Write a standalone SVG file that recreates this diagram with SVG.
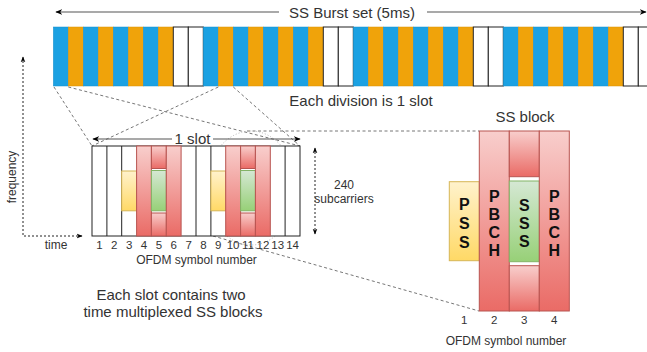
<svg xmlns="http://www.w3.org/2000/svg" width="647" height="352" viewBox="0 0 647 352">
  <defs>
    <linearGradient id="gRed" x1="0" y1="0" x2="0" y2="1">
      <stop offset="0" stop-color="#f8cecc"/>
      <stop offset="1" stop-color="#ea6b66"/>
    </linearGradient>
    <linearGradient id="gYel" x1="0" y1="0" x2="0" y2="1">
      <stop offset="0" stop-color="#fff2cc"/>
      <stop offset="1" stop-color="#ffd966"/>
    </linearGradient>
    <linearGradient id="gGrn" x1="0" y1="0" x2="0" y2="1">
      <stop offset="0" stop-color="#d5e8d4"/>
      <stop offset="1" stop-color="#97d077"/>
    </linearGradient>
    <marker id="arr" viewBox="0 0 10 10" refX="9" refY="5" markerWidth="7" markerHeight="7" orient="auto-start-reverse" markerUnits="userSpaceOnUse">
      <path d="M0,1 L10,5 L0,9 L3,5 Z" fill="#000"/>
    </marker>
    <marker id="arrS" viewBox="0 0 10 10" refX="9" refY="5" markerWidth="6" markerHeight="6" orient="auto-start-reverse" markerUnits="userSpaceOnUse">
      <path d="M0,1 L10,5 L0,9 L3,5 Z" fill="#000"/>
    </marker>
  </defs>
  <style>
    text { font-family: "Liberation Sans", Arial, sans-serif; fill: #333; }
    .b { fill: #1ba1e2; stroke: #1a8fcb; stroke-width: 0.5; }
    .o { fill: #f0a30a; stroke: #d89309; stroke-width: 0.5; }
    .w { fill: #fff; stroke: #222; stroke-width: 1; }
    .red { fill: url(#gRed); stroke: #b85450; stroke-width: 1; }
    .yel { fill: url(#gYel); stroke: #d6b656; stroke-width: 1; }
    .grn { fill: url(#gGrn); stroke: #82b366; stroke-width: 1; }
    .dash { fill: none; stroke: #666; stroke-width: 0.9; stroke-dasharray: 3 2.5; }
    .dot { fill: none; stroke: #222; stroke-width: 1; stroke-dasharray: 2 2; }
    .faint { fill: none; stroke: #b5b5b5; stroke-width: 1; stroke-dasharray: 1 2; }
    .solid { fill: none; stroke: #555; stroke-width: 1.2; }
    .lbl { font-size: 15px; }
    .num { font-size: 11.5px; text-anchor: middle; }
    .sml { font-size: 12px; }
    .blk { font-size: 16px; font-weight: bold; fill: #111; text-anchor: middle; }
  </style>

  <!-- burst set span -->
  <g id="burst-span">
    <line class="solid" x1="279" y1="12" x2="56" y2="12" marker-end="url(#arr)"/>
    <line class="solid" x1="427" y1="12" x2="646" y2="12" marker-end="url(#arr)"/>
    <text class="lbl" x="352" y="18" text-anchor="middle">SS Burst set (5ms)</text>
  </g>

  <!-- burst of slots: 8 occupied, 2 empty, repeating -->
  <g id="burst-bar">
    <rect class="b" x="53.3" y="27" width="15" height="59"/>
    <rect class="o" x="68.3" y="27" width="15" height="59"/>
    <rect class="b" x="83.3" y="27" width="15" height="59"/>
    <rect class="o" x="98.3" y="27" width="15" height="59"/>
    <rect class="b" x="113.3" y="27" width="15" height="59"/>
    <rect class="o" x="128.3" y="27" width="15" height="59"/>
    <rect class="b" x="143.3" y="27" width="15" height="59"/>
    <rect class="o" x="158.3" y="27" width="15" height="59"/>
    <rect class="w" x="173.3" y="27" width="15" height="59"/>
    <rect class="w" x="188.3" y="27" width="15" height="59"/>
    <rect class="b" x="203.3" y="27" width="15" height="59"/>
    <rect class="o" x="218.3" y="27" width="15" height="59"/>
    <rect class="b" x="233.3" y="27" width="15" height="59"/>
    <rect class="o" x="248.3" y="27" width="15" height="59"/>
    <rect class="b" x="263.3" y="27" width="15" height="59"/>
    <rect class="o" x="278.3" y="27" width="15" height="59"/>
    <rect class="b" x="293.3" y="27" width="15" height="59"/>
    <rect class="o" x="308.3" y="27" width="15" height="59"/>
    <rect class="w" x="323.3" y="27" width="15" height="59"/>
    <rect class="w" x="338.3" y="27" width="15" height="59"/>
    <rect class="b" x="353.3" y="27" width="15" height="59"/>
    <rect class="o" x="368.3" y="27" width="15" height="59"/>
    <rect class="b" x="383.3" y="27" width="15" height="59"/>
    <rect class="o" x="398.3" y="27" width="15" height="59"/>
    <rect class="b" x="413.3" y="27" width="15" height="59"/>
    <rect class="o" x="428.3" y="27" width="15" height="59"/>
    <rect class="b" x="443.3" y="27" width="15" height="59"/>
    <rect class="o" x="458.3" y="27" width="15" height="59"/>
    <rect class="w" x="473.3" y="27" width="15" height="59"/>
    <rect class="w" x="488.3" y="27" width="15" height="59"/>
    <rect class="b" x="503.3" y="27" width="15" height="59"/>
    <rect class="o" x="518.3" y="27" width="15" height="59"/>
    <rect class="b" x="533.3" y="27" width="15" height="59"/>
    <rect class="o" x="548.3" y="27" width="15" height="59"/>
    <rect class="b" x="563.3" y="27" width="15" height="59"/>
    <rect class="o" x="578.3" y="27" width="15" height="59"/>
    <rect class="b" x="593.3" y="27" width="15" height="59"/>
    <rect class="o" x="608.3" y="27" width="15" height="59"/>
    <rect class="w" x="623.3" y="27" width="15" height="59"/>
    <rect class="w" x="638.3" y="27" width="15" height="59"/>
  </g>
  <text id="division-label" class="lbl" x="361" y="106" text-anchor="middle">Each division is 1 slot</text>

  <!-- connectors -->
  <g id="connectors">
    <line class="dash" x1="54" y1="87" x2="92" y2="146"/>
    <line class="dash" x1="68.3" y1="87" x2="300" y2="146"/>
    <line class="dash" x1="218.3" y1="87" x2="92" y2="146"/>
    <line class="dash" x1="233.3" y1="87" x2="300" y2="146"/>
    <line class="dash" x1="247" y1="131" x2="479" y2="131"/>
    <line class="dash" x1="213" y1="236" x2="479" y2="311"/>
    <ellipse class="faint" cx="251" cy="188" rx="45" ry="57"/>
  </g>

  <!-- axes -->
  <g id="axes">
    <polyline class="dot" points="82,236 23,236 23,57" marker-start="url(#arrS)" marker-end="url(#arrS)"/>
    <text class="sml" transform="translate(16,177) rotate(-90)" text-anchor="middle">frequency</text>
    <text class="sml" x="56" y="249" text-anchor="middle">time</text>
  </g>

  <!-- one slot of 14 OFDM symbols -->
  <g id="slot">
    <line class="solid" x1="172" y1="139" x2="93" y2="139" marker-end="url(#arr)"/>
    <line class="solid" x1="213" y1="139" x2="300" y2="139" marker-end="url(#arr)"/>
    <text class="lbl" x="192.5" y="144" text-anchor="middle">1 slot</text>
    <rect class="w" x="92" y="146" width="208" height="90"/>
    <path d="M106.9,146V236M121.7,146V236M196,146V236M210.9,146V236M285.1,146V236" stroke="#222" stroke-width="1"/>
    <!-- first SS block -->
    <rect class="yel" x="121.7" y="171" width="14.9" height="39.8"/>
    <rect class="red" x="136.6" y="146" width="14.8" height="90"/>
    <rect class="red" x="151.4" y="146" width="14.9" height="22.5"/>
    <rect class="grn" x="151.4" y="170.5" width="14.9" height="40.3"/>
    <rect class="red" x="151.4" y="213" width="14.9" height="23"/>
    <rect class="red" x="166.3" y="146" width="14.8" height="90"/>
    <!-- second SS block -->
    <rect class="yel" x="210.9" y="171" width="14.8" height="39.8"/>
    <rect class="red" x="225.7" y="146" width="14.9" height="90"/>
    <rect class="red" x="240.6" y="146" width="14.8" height="22.5"/>
    <rect class="grn" x="240.6" y="170.5" width="14.8" height="40.3"/>
    <rect class="red" x="240.6" y="213" width="14.8" height="23"/>
    <rect class="red" x="255.4" y="146" width="14.9" height="90"/>
    <g class="num-row">
      <text class="num" x="99.4" y="249">1</text>
      <text class="num" x="114.3" y="249">2</text>
      <text class="num" x="129.1" y="249">3</text>
      <text class="num" x="144" y="249">4</text>
      <text class="num" x="158.9" y="249">5</text>
      <text class="num" x="173.7" y="249">6</text>
      <text class="num" x="188.6" y="249">7</text>
      <text class="num" x="203.4" y="249">8</text>
      <text class="num" x="218.3" y="249">9</text>
      <text class="num" x="233.1" y="249">10</text>
      <text class="num" x="248" y="249">11</text>
      <text class="num" x="262.9" y="249">12</text>
      <text class="num" x="277.7" y="249">13</text>
      <text class="num" x="292.6" y="249">14</text>
    </g>
    <text class="sml" x="196.5" y="264" text-anchor="middle">OFDM symbol number</text>
  </g>

  <!-- bandwidth of an SS block -->
  <g id="subcarriers">
    <line class="dot" x1="315" y1="148" x2="315" y2="234" marker-start="url(#arrS)" marker-end="url(#arrS)"/>
    <text class="sml" x="344" y="189" text-anchor="middle">240</text>
    <text class="sml" x="344" y="203" text-anchor="middle">subcarriers</text>
  </g>

  <text id="slot-note" class="lbl" text-anchor="middle"><tspan x="171" y="300">Each slot contains two</tspan><tspan x="173" y="317">time multiplexed SS blocks</tspan></text>

  <!-- SS block detail -->
  <g id="ss-block">
    <text class="lbl" x="525" y="122" text-anchor="middle">SS block</text>
    <g id="pss">
      <rect class="yel" x="449.3" y="181.7" width="30" height="79"/>
      <text class="blk" x="464.3" y="210">P</text>
      <text class="blk" x="464.3" y="229">S</text>
      <text class="blk" x="464.3" y="248">S</text>
    </g>
    <g id="pbch-1">
      <rect class="red" x="479.3" y="131" width="30" height="180"/>
      <text class="blk" x="494.3" y="202">P</text>
      <text class="blk" x="494.3" y="220">B</text>
      <text class="blk" x="494.3" y="238">C</text>
      <text class="blk" x="494.3" y="256">H</text>
    </g>
    <g id="sss">
      <rect class="red" x="509.3" y="131" width="30" height="45.7"/>
      <rect class="grn" x="509.3" y="181" width="30" height="80.7"/>
      <rect class="red" x="509.3" y="265.7" width="30" height="45.3"/>
      <text class="blk" x="524.3" y="211">S</text>
      <text class="blk" x="524.3" y="229">S</text>
      <text class="blk" x="524.3" y="247">S</text>
    </g>
    <g id="pbch-2">
      <rect class="red" x="539.3" y="131" width="30" height="180"/>
      <text class="blk" x="554.3" y="202">P</text>
      <text class="blk" x="554.3" y="220">B</text>
      <text class="blk" x="554.3" y="238">C</text>
      <text class="blk" x="554.3" y="256">H</text>
    </g>
    <text class="num" x="464.3" y="324" font-size="13">1</text>
    <text class="num" x="494.3" y="324" font-size="13">2</text>
    <text class="num" x="524.3" y="324" font-size="13">3</text>
    <text class="num" x="554.3" y="324" font-size="13">4</text>
    <text class="sml" x="506" y="345" text-anchor="middle" font-size="13">OFDM symbol number</text>
  </g>
</svg>
